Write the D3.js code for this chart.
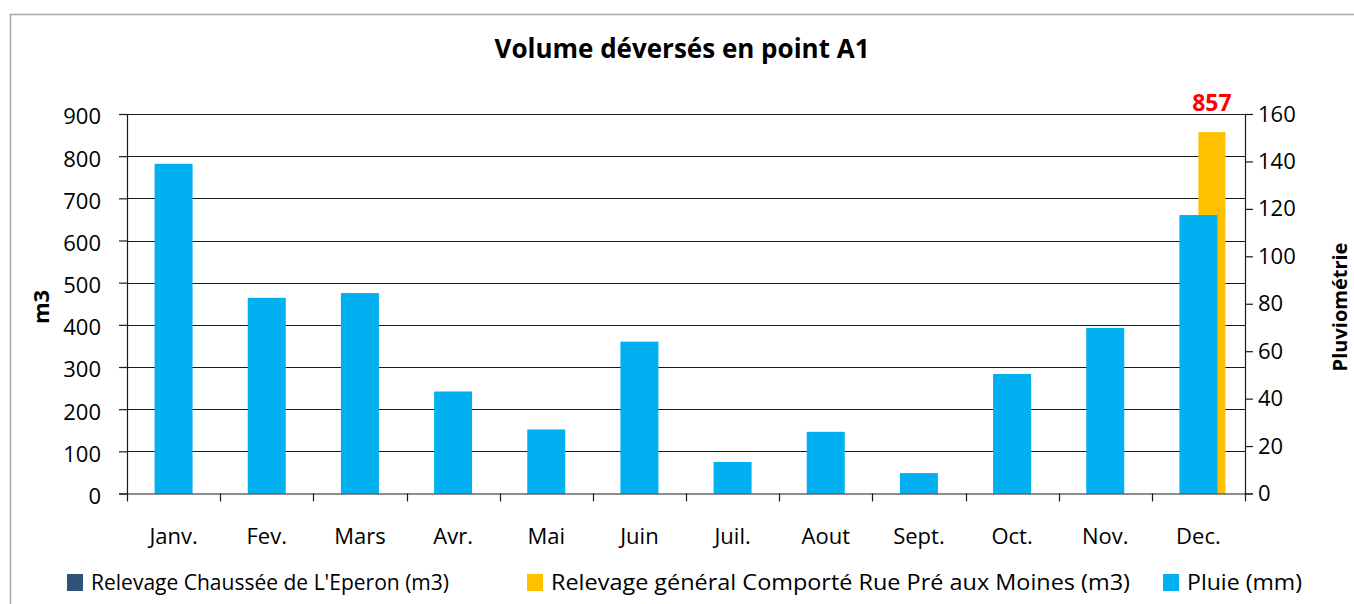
<!DOCTYPE html>
<html>
<head>
<meta charset="utf-8">
<script src="https://cdn.jsdelivr.net/npm/d3@7"></script>
<style>
  body { margin: 0; background: #fff; }
  svg text { font-family: "Open Sans", "Noto Sans", sans-serif; fill: #000; }
</style>
</head>
<body>
<script>
const w = 1354;
const h = 604;

const months = ["Janv.", "Fev.", "Mars", "Avr.", "Mai", "Juin", "Juil.", "Aout", "Sept.", "Oct.", "Nov.", "Dec."];
const chaussee = [0, 0, 0, 0, 0, 0, 0, 0, 0, 0, 0, 0];
const comporte = [0, 0, 0, 0, 0, 0, 0, 0, 0, 0, 0, 857];
const pluie = [139, 82.5, 84.5, 43, 27, 64, 13.3, 26, 8.6, 50.4, 69.8, 117.4];
const leftTicks = [0, 100, 200, 300, 400, 500, 600, 700, 800, 900];
const rightTicks = [0, 20, 40, 60, 80, 100, 120, 140, 160];
const seriesNames = ["Relevage Chaussée de L'Eperon (m3)", "Relevage général Comporté Rue Pré aux Moines (m3)", "Pluie (mm)"];
const seriesColors = ["#2f5378", "#ffc000", "#00b0f0"];

const plotLeft = 127, plotRight = 1245, plotTop = 114, plotBottom = 493.5;

const svg = d3.select("body")
    .append("svg")
    .attr("width", w)
    .attr("height", h);

// outer chart border (only top and left visible)
svg.append("path")
    .attr("d", "M10.5," + h + "V14.5H" + w)
    .attr("fill", "none")
    .attr("stroke", "#a6a6a6")
    .attr("stroke-width", 1.5);

const x = d3.scaleBand()
    .domain(months)
    .range([plotLeft, plotRight]);

const xSeries = d3.scaleBand()
    .domain([0, 1])
    .range([-27, 27]);

const yLeft = d3.scaleLinear()
    .domain([0, 900])
    .range([plotBottom, plotTop]);

const yRight = d3.scaleLinear()
    .domain([0, 160])
    .range([plotBottom, plotTop]);

// gridlines
svg.append("g")
    .selectAll("line")
    .data(leftTicks.slice(1))
    .join("line")
    .attr("x1", plotLeft)
    .attr("x2", plotRight)
    .attr("y1", d => Math.round(yLeft(d)) + 0.5)
    .attr("y2", d => Math.round(yLeft(d)) + 0.5)
    .attr("stroke", "#1a1a1a")
    .attr("stroke-width", 1.2);

// primary bars
const primary = [chaussee, comporte];
primary.forEach((vals, s) => {
    svg.append("g")
        .selectAll("rect")
        .data(vals)
        .join("rect")
        .attr("x", (d, i) => x(months[i]) + x.bandwidth() / 2 + xSeries(s))
        .attr("width", xSeries.bandwidth())
        .attr("y", d => yLeft(d))
        .attr("height", d => plotBottom - yLeft(d))
        .attr("fill", seriesColors[s]);
});

// secondary bars
const pw = 38;
svg.append("g")
    .selectAll("rect")
    .data(pluie)
    .join("rect")
    .attr("x", (d, i) => x(months[i]) + x.bandwidth() / 2 - pw / 2)
    .attr("width", pw)
    .attr("y", d => yRight(d))
    .attr("height", d => plotBottom - yRight(d))
    .attr("fill", seriesColors[2]);

// data label on the big value
svg.append("text")
    .attr("x", x("Dec.") + x.bandwidth() / 2 + xSeries(1) + xSeries.bandwidth() / 2)
    .attr("y", yLeft(857) - 21)
    .attr("text-anchor", "middle")
    .attr("font-size", 23)
    .attr("font-weight", "bold")
    .style("fill", "#ff0000")
    .text("857");

// axes
const yAxisL = d3.axisLeft(yLeft).tickValues(leftTicks).tickSize(8).tickPadding(18);
const gL = svg.append("g")
    .attr("transform", "translate(" + plotLeft + ",0)")
    .call(yAxisL);

const yAxisR = d3.axisRight(yRight).tickValues(rightTicks).tickSize(8).tickPadding(5);
const gR = svg.append("g")
    .attr("transform", "translate(" + plotRight + ",0)")
    .call(yAxisR);

const xAxis = d3.axisBottom(x).tickSize(0).tickPadding(35);
const gX = svg.append("g")
    .attr("transform", "translate(0," + plotBottom + ")")
    .call(xAxis);

// x ticks at category boundaries
svg.append("g")
    .selectAll("line")
    .data(months.concat(["end"]))
    .join("line")
    .attr("x1", (d, i) => Math.round(plotLeft + i * x.bandwidth()) + 0.5)
    .attr("x2", (d, i) => Math.round(plotLeft + i * x.bandwidth()) + 0.5)
    .attr("y1", plotBottom)
    .attr("y2", plotBottom + 8)
    .attr("stroke", "#1a1a1a")
    .attr("stroke-width", 1.2);

[gL, gR, gX].forEach(g => {
    g.selectAll(".domain").attr("stroke", "#1a1a1a").attr("stroke-width", 1.2);
    g.selectAll(".tick line").attr("stroke", "#1a1a1a").attr("stroke-width", 1.2);
    g.selectAll("text")
        .attr("font-size", 22)
        .style("font-family", "'Open Sans', sans-serif");
});
gL.selectAll(".tick text").attr("dy", "0.45em");
gX.select(".domain").attr("d", "M" + plotLeft + ",0.5H" + plotRight);

// title
svg.append("text")
    .attr("x", 682)
    .attr("y", 58)
    .attr("text-anchor", "middle")
    .attr("font-size", 26)
    .attr("font-weight", "bold")
    .text("Volume déversés en point A1");

// axis titles
svg.append("text")
    .attr("transform", "translate(49,307) rotate(-90)")
    .attr("text-anchor", "middle")
    .attr("font-size", 22)
    .attr("font-weight", "bold")
    .text("m3");

svg.append("text")
    .attr("transform", "translate(1347,307) rotate(-90)")
    .attr("text-anchor", "middle")
    .attr("font-size", 20)
    .attr("font-weight", "bold")
    .text("Pluviométrie");

// legend
const legendX = [67, 527, 1163];
const legendW = [358, 579, 115];
const legend = svg.append("g")
    .selectAll("g")
    .data(seriesNames)
    .join("g")
    .attr("transform", (d, i) => "translate(" + legendX[i] + ",574)");

legend.append("rect")
    .attr("width", 16)
    .attr("height", 17)
    .attr("fill", (d, i) => seriesColors[i]);

legend.append("text")
    .attr("x", 24)
    .attr("y", 16)
    .attr("font-size", 21)
    .attr("textLength", (d, i) => legendW[i])
    .attr("lengthAdjust", "spacingAndGlyphs")
    .text(d => d);
</script>
</body>
</html>
